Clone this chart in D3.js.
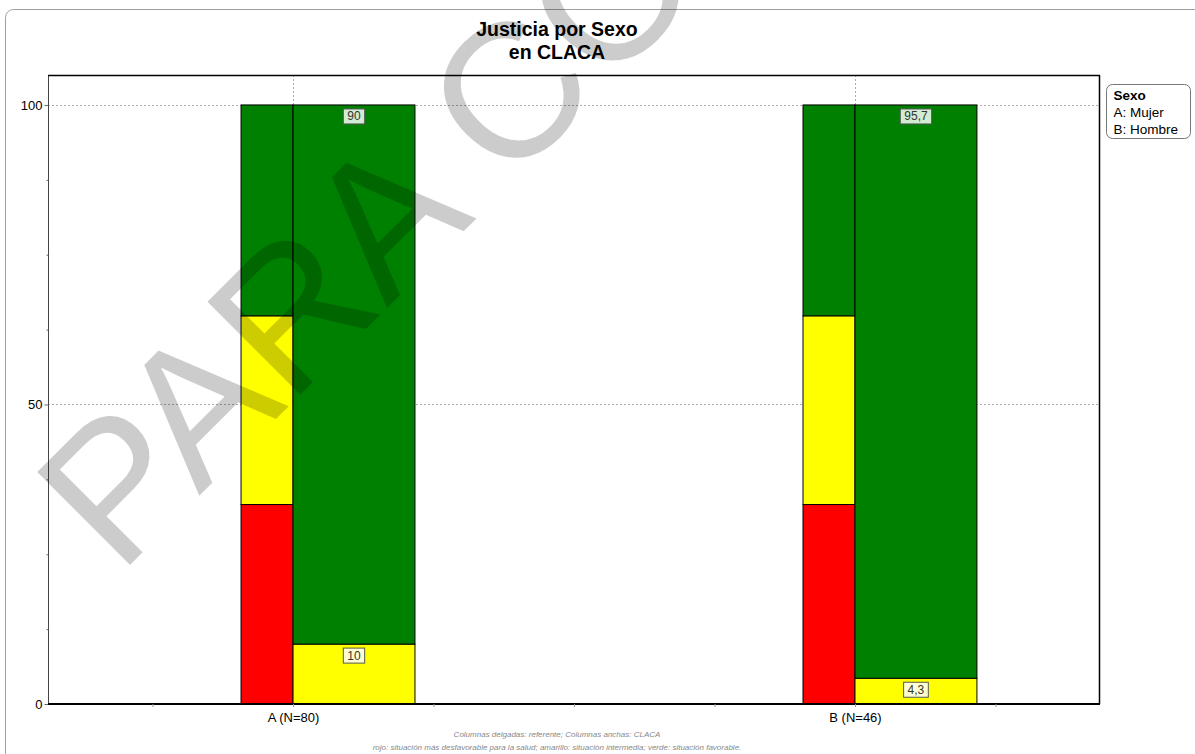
<!DOCTYPE html>
<html>
<head>
<meta charset="utf-8">
<script src="https://cdn.jsdelivr.net/npm/d3@7"></script>
<style>
  html, body { margin: 0; padding: 0; background: #fff; }
  svg { display: block; font-family: "Liberation Sans", Arial, sans-serif; }
</style>
</head>
<body>
<svg id="chart" width="1195" height="754"></svg>
<script>
// Groups on the x axis
const categories = ["A (N=80)", "B (N=46)"];
// Segment order, bottom to top
const levels = ["rojo", "amarillo", "verde"];
const levelColors = ["#ff0000", "#ffff00", "#008000"];
const labelFills = ["#ffd0d0", "#ffffd2", "#d2ecd2"];
// Thin columns: reference distribution (%)
const referenteValues = [
  [33.3, 31.5, 35.2],
  [33.3, 31.5, 35.2]
];
// Wide columns: CLACA distribution (%)
const clacaValues = [
  [0, 10, 90],
  [0, 4.3, 95.7]
];
const yTicks = [0, 50, 100];
const legendTitle = "Sexo";
const legendItems = ["A: Mujer", "B: Hombre"];
const titleLines = ["Justicia por Sexo", "en CLACA"];
const notes = [
  "Columnas delgadas: referente; Columnas anchas: CLACA",
  "rojo: situación más desfavorable para la salud; amarillo: situación intermedia; verde: situación favorable."
];
const watermark = "PARA CONSULTA";

const svg = d3.select("#chart");
const plotL = 48, plotR = 1100, plotT = 75, plotB = 704;

const x = d3.scaleLinear().domain([-0.436, 1.436]).range([plotL, plotR]);
const y = d3.scaleLinear().domain([0, 105]).range([plotB, plotT]);
const thinW = 0.0925, wideW = 0.217;

// Outer frame
svg.append("rect")
  .attr("x", 5.5).attr("y", 9.5).attr("width", 1210).attr("height", 780)
  .attr("rx", 8).attr("fill", "#fff").attr("stroke", "#a0a0a0");

// Title
svg.append("g").selectAll("text").data(titleLines).join("text")
  .attr("x", 557).attr("y", (d, i) => 36 + i * 23)
  .attr("text-anchor", "middle").attr("font-size", 19.5).attr("font-weight", "bold")
  .attr("fill", "#000").text(d => d);

// Grid lines
const grid = svg.append("g").attr("stroke", "#aaa").attr("stroke-dasharray", "2,2").attr("stroke-width", 1);
grid.selectAll("line.h").data(yTicks.filter(d => d > 0)).join("line").attr("class", "h")
  .attr("x1", plotL).attr("x2", plotR)
  .attr("y1", d => Math.round(y(d)) + 0.5).attr("y2", d => Math.round(y(d)) + 0.5);
grid.selectAll("line.v").data(categories).join("line").attr("class", "v")
  .attr("x1", (d, i) => Math.round(x(i)) + 0.5).attr("x2", (d, i) => Math.round(x(i)) + 0.5)
  .attr("y1", plotT).attr("y2", plotB);

// Stacked columns
function stackRows(values) {
  return values.map((row, ci) => {
    let acc = 0;
    return row.map((v, li) => {
      const seg = { ci, li, y0: acc, y1: acc + v, v };
      acc += v;
      return seg;
    });
  });
}
const refSegs = stackRows(referenteValues).flat().filter(s => s.v > 0);
const clacaSegs = stackRows(clacaValues).flat().filter(s => s.v > 0);

const bars = svg.append("g");
bars.selectAll("rect.ref").data(refSegs).join("rect").attr("class", "ref")
  .attr("x", d => x(d.ci - thinW)).attr("width", d => x(d.ci) - x(d.ci - thinW))
  .attr("y", d => y(d.y1)).attr("height", d => y(d.y0) - y(d.y1))
  .attr("fill", d => levelColors[d.li]).attr("stroke", "#000").attr("stroke-width", 1);
bars.selectAll("rect.claca").data(clacaSegs).join("rect").attr("class", "claca")
  .attr("x", d => x(d.ci)).attr("width", d => x(d.ci + wideW) - x(d.ci))
  .attr("y", d => y(d.y1)).attr("height", d => y(d.y0) - y(d.y1))
  .attr("fill", d => levelColors[d.li]).attr("stroke", "#000").attr("stroke-width", 1);

// Value labels on the wide columns
const fmt = v => String(v).replace(".", ",");
const lab = svg.append("g").selectAll("g").data(clacaSegs).join("g")
  .attr("transform", d => `translate(${x(d.ci + wideW / 2)},${y(d.y1) + 4})`);
lab.each(function(d) {
  const g = d3.select(this);
  const t = g.append("text").attr("x", 0).attr("y", 11.5).attr("text-anchor", "middle")
    .attr("font-size", 12).attr("fill", "#333").text(fmt(d.v));
  const w = t.node().getComputedTextLength() + 8;
  g.insert("rect", "text").attr("x", -w / 2).attr("y", 0).attr("width", w).attr("height", 15)
    .attr("fill", labelFills[d.li]).attr("stroke", "#555").attr("stroke-width", 1);
});

// Plot border
svg.append("line").attr("x1", plotL + 0.5).attr("x2", plotL + 0.5).attr("y1", plotT).attr("y2", plotB)
  .attr("stroke", "#444");
svg.append("line").attr("x1", plotL).attr("x2", plotR).attr("y1", plotT + 0.5).attr("y2", plotT + 0.5)
  .attr("stroke", "#000").attr("stroke-width", 1.5);
svg.append("line").attr("x1", plotR - 0.5).attr("x2", plotR - 0.5).attr("y1", plotT).attr("y2", plotB)
  .attr("stroke", "#000").attr("stroke-width", 1.5);

// Y axis
const yAxis = svg.append("g").attr("transform", `translate(${plotL + 0.5},0)`)
  .call(d3.axisLeft(y).tickValues(yTicks).tickSize(4).tickPadding(2).tickFormat(d3.format("d")));
yAxis.select(".domain").remove();
yAxis.selectAll("line").attr("stroke", "#666");
yAxis.selectAll("text").attr("font-size", 13).attr("fill", "#000").attr("font-family", "Liberation Sans, Arial, sans-serif");
const yMinor = svg.append("g").attr("transform", `translate(${plotL + 0.5},0)`)
  .call(d3.axisLeft(y).tickValues([12.5, 25, 37.5, 62.5, 75, 87.5]).tickSize(2).tickFormat(""));
yMinor.select(".domain").remove();
yMinor.selectAll("line").attr("stroke", "#666");

// X axis
const xAxis = svg.append("g").attr("transform", `translate(0,${plotB})`)
  .call(d3.axisBottom(x).tickValues([-0.25, 0, 0.25, 0.5, 0.75, 1, 1.25]).tickSize(3)
    .tickFormat(d => (Number.isInteger(d) ? categories[d] : "")).tickPadding(6));
xAxis.select(".domain").attr("stroke", "#000").attr("stroke-width", 2)
  .attr("d", `M${plotL},0H${plotR}`);
xAxis.selectAll("line").attr("stroke", "#999");
xAxis.selectAll("text").attr("font-size", 13).attr("fill", "#000").attr("font-family", "Liberation Sans, Arial, sans-serif");

// Legend
const leg = svg.append("g").attr("transform", "translate(1106.5,84.5)");
leg.append("rect").attr("width", 84).attr("height", 54).attr("rx", 6)
  .attr("fill", "#fff").attr("stroke", "#777");
leg.append("text").attr("x", 7).attr("y", 15).attr("font-size", 13.5).attr("font-weight", "bold").text(legendTitle);
leg.selectAll("text.item").data(legendItems).join("text").attr("class", "item")
  .attr("x", 7).attr("y", (d, i) => 32.5 + i * 17).attr("font-size", 13.5).text(d => d);

// Notes
svg.append("g").selectAll("text").data(notes).join("text")
  .attr("x", 557).attr("y", (d, i) => 737 + i * 13)
  .attr("text-anchor", "middle").attr("font-size", 8).attr("font-style", "italic")
  .attr("fill", "#888").text(d => d);

// Watermark
svg.append("text")
  .attr("transform", "translate(119,576) rotate(-45)")
  .attr("font-size", 191).attr("fill", "#000").attr("fill-opacity", 0.2)
  .attr("font-family", "Liberation Sans, Arial, sans-serif")
  .text(watermark);
</script>
</body>
</html>
